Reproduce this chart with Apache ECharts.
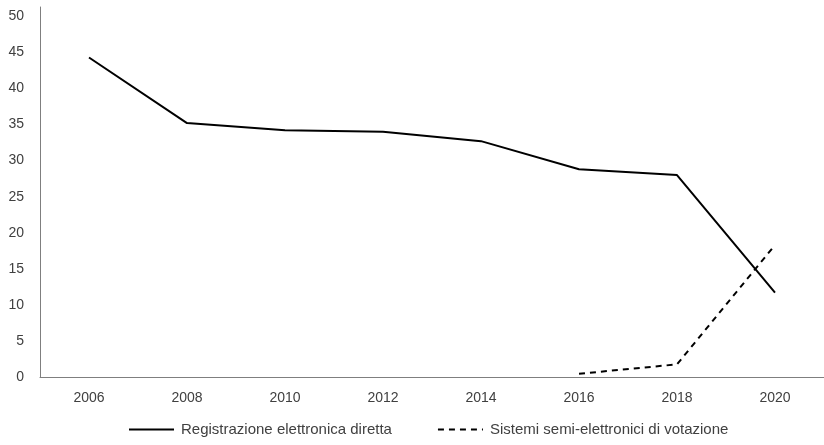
<!DOCTYPE html>
<html><head><meta charset="utf-8">
<script src="https://cdn.jsdelivr.net/npm/echarts@6/dist/echarts.min.js"></script>
<style>html,body{margin:0;padding:0;background:#fff}#c{width:824px;height:445px}</style>
</head><body><div id="c"></div>
<script>
const years = ['2006','2008','2010','2012','2014','2016','2018','2020'];
const registrazione = [44.3, 35.2, 34.2, 34.0, 32.7, 28.8, 28.0, 11.7];
const semiElettronici = [null, null, null, null, null, 0.45, 1.75, 18.3];
const seriesNames = ['Registrazione elettronica diretta', 'Sistemi semi-elettronici di votazione'];

const font = 'Liberation Sans';
const chart = echarts.init(document.getElementById('c'));
chart.setOption({
  animation: false,
  grid: {left: 40, right: 0, top: 7, bottom: 68},
  legend: {
    bottom: 3, left: 123, itemGap: 45, itemWidth: 45, itemHeight: 12,
    itemStyle: {opacity: 0},
    textStyle: {fontFamily: font, fontSize: 15, color: '#404040', padding: [0, 0, 0, 2]},
    data: seriesNames
  },
  xAxis: {
    type: 'category', data: years, boundaryGap: true,
    axisLine: {lineStyle: {color: '#7f7f7f', width: 1}},
    axisTick: {show: false},
    axisLabel: {fontFamily: font, fontSize: 14, color: '#404040', margin: 14}
  },
  yAxis: {
    type: 'value', min: 0, max: 51.3, interval: 5,
    axisLine: {show: true, lineStyle: {color: '#7f7f7f', width: 1}},
    axisTick: {show: false},
    splitLine: {show: false},
    axisLabel: {fontFamily: font, fontSize: 14, color: '#404040', margin: 16, showMaxLabel: false,
      formatter: v => (v % 5 === 0 ? String(v) : '')}
  },
  series: [
    {name: seriesNames[0], type: 'line', data: registrazione, symbol: 'none',
     lineStyle: {color: '#000', width: 2, type: 'solid'}, itemStyle: {color: '#000'}},
    {name: seriesNames[1], type: 'line', data: semiElettronici, symbol: 'none',
     lineStyle: {color: '#000', width: 2, type: [6, 5]}, itemStyle: {color: '#000'}}
  ]
});
</script></body></html>
